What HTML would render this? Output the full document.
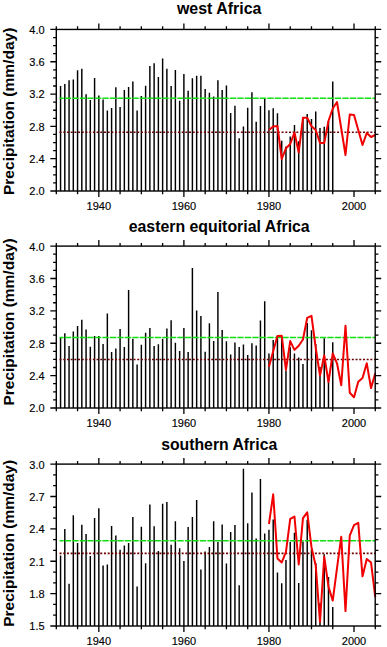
<!DOCTYPE html>
<html><head><meta charset="utf-8"><title>Precipitation</title>
<style>
html,body{margin:0;padding:0;background:#fff;}
body{width:387px;height:647px;overflow:hidden;}
svg{display:block;}
.tl{font-family:"Liberation Sans",sans-serif;font-size:11px;fill:#000;stroke:#000;stroke-width:0.15px;}
.tt{font-family:"Liberation Sans",sans-serif;font-size:15.6px;font-weight:bold;fill:#000;}
.yt{font-family:"Liberation Sans",sans-serif;font-size:15.2px;font-weight:bold;fill:#000;}
</style></head>
<body>
<svg width="387" height="647" viewBox="0 0 387 647">
<rect width="387" height="647" fill="#fff"/>
<path d="M60.55 191V86.1M64.81 191V84.1M69.06 191V80.3M73.31 191V79.4M77.56 191V70.3M81.82 191V68.7M86.07 191V94.3M90.32 191V100M94.58 191V78M98.83 191V95.4M103.08 191V99.6M107.34 191V110.4M111.59 191V108.1M115.84 191V87.2M120.09 191V107M124.35 191V90M128.6 191V86.9M132.85 191V81.4M137.11 191V110.6M141.36 191V95.9M145.61 191V85.8M149.87 191V65.9M154.12 191V63.3M158.37 191V77.1M162.62 191V58.5M166.88 191V68.7M171.13 191V86.1M175.38 191V70.1M179.64 191V100.8M183.89 191V74M188.14 191V90.7M192.4 191V78.3M196.65 191V75.7M200.9 191V75.7M205.16 191V88.9M209.41 191V92.8M213.66 191V96.5M217.91 191V80.2M222.17 191V90M226.42 191V85.6M230.67 191V112.9M234.93 191V105.8M239.18 191V138.3M243.43 191V126.4M247.69 191V107.8M251.94 191V92.3M256.19 191V121.7M260.44 191V105.9M264.7 191V98.2M268.95 191V110.3M273.2 191V108.3M277.46 191V113.2M281.71 191V140.8M285.96 191V146.6M290.22 191V136.5M294.47 191V124.9M298.72 191V141.2M302.97 191V117.1M307.23 191V114M311.48 191V119.1M315.73 191V111.5M319.99 191V128M324.24 191V126.8M328.49 191V121.3M332.75 191V81.5" stroke="#000" stroke-width="1.45" fill="none"/>
<path d="M59.55 98.3H375.2" stroke="#10e010" stroke-width="1.5" stroke-dasharray="6.3 1.2" stroke-dashoffset="-5.3" fill="none"/>
<path d="M59.55 132.2H375.2" stroke="#6a0000" stroke-width="1.6" stroke-dasharray="2 1.7" fill="none"/>
<polyline points="268.95,130 273.2,126.5 277.46,126 281.71,159 285.96,148.3 290.22,144 294.47,132.5 298.72,152.5 302.97,117.8 307.23,117.8 311.48,126.3 315.73,130 319.99,143 324.24,143 328.49,121 332.75,108.5 337,102 341.25,128.5 345.5,155 349.76,114.5 354.01,115 358.26,130 362.52,145 366.77,133 371.02,137 375.28,135" stroke="#f00000" stroke-width="2" fill="none" stroke-linejoin="round"/>
<rect x="56.3" y="29.45" width="318.9" height="161.55" fill="none" stroke="#000" stroke-width="1.4"/>
<path d="M56.3 191V194.2M56.3 29.45V26.25M77.56 191V194.2M77.56 29.45V26.25M98.83 191V197M98.83 29.45V23.45M120.09 191V194.2M120.09 29.45V26.25M141.36 191V194.2M141.36 29.45V26.25M162.62 191V194.2M162.62 29.45V26.25M183.89 191V197M183.89 29.45V23.45M205.16 191V194.2M205.16 29.45V26.25M226.42 191V194.2M226.42 29.45V26.25M247.69 191V194.2M247.69 29.45V26.25M268.95 191V197M268.95 29.45V23.45M290.22 191V194.2M290.22 29.45V26.25M311.48 191V194.2M311.48 29.45V26.25M332.75 191V194.2M332.75 29.45V26.25M354.01 191V197M354.01 29.45V23.45M375.28 191V194.2M375.28 29.45V26.25M56.3 191H50.3M375.2 191H381.2M56.3 182.92H53.1M375.2 182.92H378.4M56.3 174.84H53.1M375.2 174.84H378.4M56.3 166.77H53.1M375.2 166.77H378.4M56.3 158.69H50.3M375.2 158.69H381.2M56.3 150.61H53.1M375.2 150.61H378.4M56.3 142.53H53.1M375.2 142.53H378.4M56.3 134.46H53.1M375.2 134.46H378.4M56.3 126.38H50.3M375.2 126.38H381.2M56.3 118.3H53.1M375.2 118.3H378.4M56.3 110.23H53.1M375.2 110.23H378.4M56.3 102.15H53.1M375.2 102.15H378.4M56.3 94.07H50.3M375.2 94.07H381.2M56.3 85.99H53.1M375.2 85.99H378.4M56.3 77.91H53.1M375.2 77.91H378.4M56.3 69.84H53.1M375.2 69.84H378.4M56.3 61.76H50.3M375.2 61.76H381.2M56.3 53.68H53.1M375.2 53.68H378.4M56.3 45.61H53.1M375.2 45.61H378.4M56.3 37.53H53.1M375.2 37.53H378.4M56.3 29.45H50.3M375.2 29.45H381.2" stroke="#000" stroke-width="1.3" fill="none"/>
<text x="44.6" y="195.4" text-anchor="end" class="tl">2.0</text>
<text x="44.6" y="163.09" text-anchor="end" class="tl">2.4</text>
<text x="44.6" y="130.78" text-anchor="end" class="tl">2.8</text>
<text x="44.6" y="98.47" text-anchor="end" class="tl">3.2</text>
<text x="44.6" y="66.16" text-anchor="end" class="tl">3.6</text>
<text x="44.6" y="33.85" text-anchor="end" class="tl">4.0</text>
<text x="98.83" y="210.3" text-anchor="middle" class="tl">1940</text>
<text x="183.89" y="210.3" text-anchor="middle" class="tl">1960</text>
<text x="268.95" y="210.3" text-anchor="middle" class="tl">1980</text>
<text x="354.01" y="210.3" text-anchor="middle" class="tl">2000</text>
<text x="219.2" y="13.6" text-anchor="middle" class="tt" textLength="84.5" lengthAdjust="spacingAndGlyphs">west Africa</text>
<text transform="translate(13.8 111.35) rotate(-90)" text-anchor="middle" class="yt" textLength="167.4" lengthAdjust="spacingAndGlyphs">Precipitation (mm/day)</text>
<path d="M60.55 408V338.1M64.81 408V333.2M69.06 408V345.9M73.31 408V331.5M77.56 408V326M81.82 408V319.7M86.07 408V329.6M90.32 408V346.7M94.58 408V336.1M98.83 408V336.1M103.08 408V344M107.34 408V313.6M111.59 408V352.1M115.84 408V348.4M120.09 408V329.1M124.35 408V347M128.6 408V290M132.85 408V338.7M137.11 408V364.6M141.36 408V344.8M145.61 408V332.8M149.87 408V328.1M154.12 408V346.1M158.37 408V344.3M162.62 408V338.7M166.88 408V328.5M171.13 408V320.2M175.38 408V342.8M179.64 408V351.1M183.89 408V328M188.14 408V352M192.4 408V268M196.65 408V310.6M200.9 408V315.9M205.16 408V351.7M209.41 408V323.3M213.66 408V340.9M217.91 408V291.9M222.17 408V330M226.42 408V341.3M230.67 408V354.6M234.93 408V342.6M239.18 408V347M243.43 408V344.4M247.69 408V355M251.94 408V343.3M256.19 408V345.4M260.44 408V320.4M264.7 408V301.3M268.95 408V353.5M273.2 408V340.1M277.46 408V335.8M281.71 408V336.3M285.96 408V370.5M290.22 408V347.3M294.47 408V353.5M298.72 408V357.4M302.97 408V363.9M307.23 408V323M311.48 408V330.2M315.73 408V344.1M319.99 408V367M324.24 408V338.2M328.49 408V375M332.75 408V342.2" stroke="#000" stroke-width="1.45" fill="none"/>
<path d="M59.55 337.6H375.2" stroke="#10e010" stroke-width="1.5" stroke-dasharray="6.3 1.2" stroke-dashoffset="-5.3" fill="none"/>
<path d="M59.55 359.5H375.2" stroke="#6a0000" stroke-width="1.6" stroke-dasharray="2 1.7" fill="none"/>
<polyline points="268.95,366.7 273.2,351.2 277.46,336 281.71,335.7 285.96,369.8 290.22,341.1 294.47,349.9 298.72,345.7 302.97,339.5 307.23,317.8 311.48,315.8 315.73,348 319.99,375.5 324.24,355.5 328.49,382 332.75,353.5 337,363.3 341.25,385.3 345.5,325.7 349.76,392.7 354.01,397.2 358.26,381.7 362.52,378 366.77,363.3 371.02,388.1 375.28,373.4" stroke="#f00000" stroke-width="2" fill="none" stroke-linejoin="round"/>
<rect x="56.3" y="246.1" width="318.9" height="161.9" fill="none" stroke="#000" stroke-width="1.4"/>
<path d="M56.3 408V411.2M56.3 246.1V242.9M77.56 408V411.2M77.56 246.1V242.9M98.83 408V414M98.83 246.1V240.1M120.09 408V411.2M120.09 246.1V242.9M141.36 408V411.2M141.36 246.1V242.9M162.62 408V411.2M162.62 246.1V242.9M183.89 408V414M183.89 246.1V240.1M205.16 408V411.2M205.16 246.1V242.9M226.42 408V411.2M226.42 246.1V242.9M247.69 408V411.2M247.69 246.1V242.9M268.95 408V414M268.95 246.1V240.1M290.22 408V411.2M290.22 246.1V242.9M311.48 408V411.2M311.48 246.1V242.9M332.75 408V411.2M332.75 246.1V242.9M354.01 408V414M354.01 246.1V240.1M375.28 408V411.2M375.28 246.1V242.9M56.3 408H50.3M375.2 408H381.2M56.3 399.9H53.1M375.2 399.9H378.4M56.3 391.81H53.1M375.2 391.81H378.4M56.3 383.72H53.1M375.2 383.72H378.4M56.3 375.62H50.3M375.2 375.62H381.2M56.3 367.52H53.1M375.2 367.52H378.4M56.3 359.43H53.1M375.2 359.43H378.4M56.3 351.33H53.1M375.2 351.33H378.4M56.3 343.24H50.3M375.2 343.24H381.2M56.3 335.14H53.1M375.2 335.14H378.4M56.3 327.05H53.1M375.2 327.05H378.4M56.3 318.95H53.1M375.2 318.95H378.4M56.3 310.86H50.3M375.2 310.86H381.2M56.3 302.76H53.1M375.2 302.76H378.4M56.3 294.67H53.1M375.2 294.67H378.4M56.3 286.57H53.1M375.2 286.57H378.4M56.3 278.48H50.3M375.2 278.48H381.2M56.3 270.38H53.1M375.2 270.38H378.4M56.3 262.29H53.1M375.2 262.29H378.4M56.3 254.19H53.1M375.2 254.19H378.4M56.3 246.1H50.3M375.2 246.1H381.2" stroke="#000" stroke-width="1.3" fill="none"/>
<text x="44.6" y="412.4" text-anchor="end" class="tl">2.0</text>
<text x="44.6" y="380.02" text-anchor="end" class="tl">2.4</text>
<text x="44.6" y="347.64" text-anchor="end" class="tl">2.8</text>
<text x="44.6" y="315.26" text-anchor="end" class="tl">3.2</text>
<text x="44.6" y="282.88" text-anchor="end" class="tl">3.6</text>
<text x="44.6" y="250.5" text-anchor="end" class="tl">4.0</text>
<text x="98.83" y="427.3" text-anchor="middle" class="tl">1940</text>
<text x="183.89" y="427.3" text-anchor="middle" class="tl">1960</text>
<text x="268.95" y="427.3" text-anchor="middle" class="tl">1980</text>
<text x="354.01" y="427.3" text-anchor="middle" class="tl">2000</text>
<text x="219.2" y="232.2" text-anchor="middle" class="tt" textLength="181" lengthAdjust="spacingAndGlyphs">eastern equitorial Africa</text>
<text transform="translate(13.8 322) rotate(-90)" text-anchor="middle" class="yt" textLength="167.1" lengthAdjust="spacingAndGlyphs">Precipitation (mm/day)</text>
<path d="M60.55 626V555.6M64.81 626V529.1M69.06 626V583.7M73.31 626V515.2M77.56 626V543M81.82 626V524.8M86.07 626V534.1M90.32 626V555.9M94.58 626V518M98.83 626V508.3M103.08 626V565.6M107.34 626V564.6M111.59 626V525.9M115.84 626V535.6M120.09 626V549.8M124.35 626V545.4M128.6 626V543M132.85 626V517M137.11 626V586.5M141.36 626V526.7M145.61 626V563.3M149.87 626V504.6M154.12 626V526.3M158.37 626V550.9M162.62 626V503.7M166.88 626V501.9M171.13 626V544.8M175.38 626V521.3M179.64 626V548.2M183.89 626V561.1M188.14 626V527.1M192.4 626V517M196.65 626V500.1M200.9 626V569.4M205.16 626V551.4M209.41 626V547.1M213.66 626V521.3M217.91 626V541.9M222.17 626V524.5M226.42 626V563.5M230.67 626V532.1M234.93 626V525M239.18 626V585.2M243.43 626V468.7M247.69 626V523.2M251.94 626V492.5M256.19 626V538.4M260.44 626V479.1M264.7 626V533.6M268.95 626V529.7M273.2 626V519.5M277.46 626V572.6M281.71 626V583.3M285.96 626V559.9M290.22 626V542.1M294.47 626V532.8M298.72 626V583.1M302.97 626V541.4M307.23 626V519.8M311.48 626V549.5M315.73 626V562.9M319.99 626V602.9M324.24 626V554.2M328.49 626V577M332.75 626V607.1" stroke="#000" stroke-width="1.45" fill="none"/>
<path d="M59.55 540.8H375.2" stroke="#10e010" stroke-width="1.5" stroke-dasharray="6.3 1.2" stroke-dashoffset="-5.3" fill="none"/>
<path d="M59.55 553.4H375.2" stroke="#6a0000" stroke-width="1.6" stroke-dasharray="2 1.7" fill="none"/>
<polyline points="268.95,524 273.2,494.3 277.46,558.5 281.71,562.5 285.96,551.8 290.22,518.9 294.47,516.6 298.72,564.5 302.97,518.2 307.23,512.4 311.48,547.2 315.73,565.7 319.99,622 324.24,556.6 328.49,586.7 332.75,600.6 337,568.2 341.25,536.8 345.5,611.1 349.76,535.7 354.01,525.2 358.26,522.9 362.52,576.3 366.77,558.9 371.02,562.4 375.28,597.2" stroke="#f00000" stroke-width="2" fill="none" stroke-linejoin="round"/>
<rect x="56.3" y="464.1" width="318.9" height="161.9" fill="none" stroke="#000" stroke-width="1.4"/>
<path d="M56.3 626V629.2M56.3 464.1V460.9M77.56 626V629.2M77.56 464.1V460.9M98.83 626V632M98.83 464.1V458.1M120.09 626V629.2M120.09 464.1V460.9M141.36 626V629.2M141.36 464.1V460.9M162.62 626V629.2M162.62 464.1V460.9M183.89 626V632M183.89 464.1V458.1M205.16 626V629.2M205.16 464.1V460.9M226.42 626V629.2M226.42 464.1V460.9M247.69 626V629.2M247.69 464.1V460.9M268.95 626V632M268.95 464.1V458.1M290.22 626V629.2M290.22 464.1V460.9M311.48 626V629.2M311.48 464.1V460.9M332.75 626V629.2M332.75 464.1V460.9M354.01 626V632M354.01 464.1V458.1M375.28 626V629.2M375.28 464.1V460.9M56.3 626H50.3M375.2 626H381.2M56.3 615.21H53.1M375.2 615.21H378.4M56.3 604.41H53.1M375.2 604.41H378.4M56.3 593.62H50.3M375.2 593.62H381.2M56.3 582.83H53.1M375.2 582.83H378.4M56.3 572.03H53.1M375.2 572.03H378.4M56.3 561.24H50.3M375.2 561.24H381.2M56.3 550.45H53.1M375.2 550.45H378.4M56.3 539.65H53.1M375.2 539.65H378.4M56.3 528.86H50.3M375.2 528.86H381.2M56.3 518.07H53.1M375.2 518.07H378.4M56.3 507.27H53.1M375.2 507.27H378.4M56.3 496.48H50.3M375.2 496.48H381.2M56.3 485.69H53.1M375.2 485.69H378.4M56.3 474.89H53.1M375.2 474.89H378.4M56.3 464.1H50.3M375.2 464.1H381.2" stroke="#000" stroke-width="1.3" fill="none"/>
<text x="44.6" y="630.4" text-anchor="end" class="tl">1.5</text>
<text x="44.6" y="598.02" text-anchor="end" class="tl">1.8</text>
<text x="44.6" y="565.64" text-anchor="end" class="tl">2.1</text>
<text x="44.6" y="533.26" text-anchor="end" class="tl">2.4</text>
<text x="44.6" y="500.88" text-anchor="end" class="tl">2.7</text>
<text x="44.6" y="468.5" text-anchor="end" class="tl">3.0</text>
<text x="98.83" y="645.3" text-anchor="middle" class="tl">1940</text>
<text x="183.89" y="645.3" text-anchor="middle" class="tl">1960</text>
<text x="268.95" y="645.3" text-anchor="middle" class="tl">1980</text>
<text x="354.01" y="645.3" text-anchor="middle" class="tl">2000</text>
<text x="219.2" y="450.2" text-anchor="middle" class="tt" textLength="116" lengthAdjust="spacingAndGlyphs">southern Africa</text>
<text transform="translate(13.8 543.35) rotate(-90)" text-anchor="middle" class="yt" textLength="166.8" lengthAdjust="spacingAndGlyphs">Precipitation (mm/day)</text>
</svg>
</body></html>
